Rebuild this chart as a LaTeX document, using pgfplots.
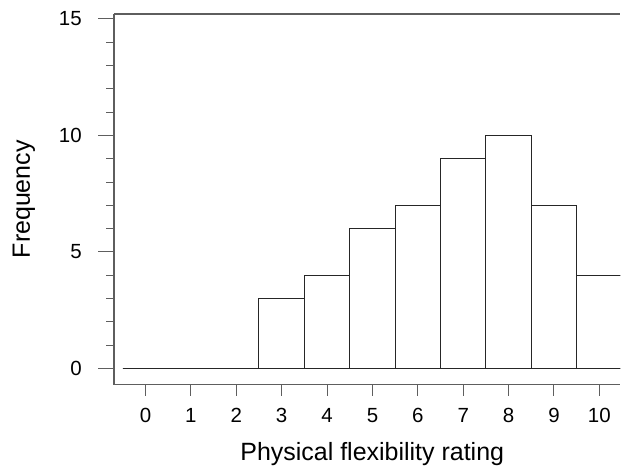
\documentclass[border=0pt]{standalone}
\usepackage{fontspec}
\setmainfont{Liberation Sans}
\usepackage{pgfplots}
\pgfplotsset{compat=1.18}
\definecolor{framegray}{HTML}{5E5E5E}

\begin{document}
\begin{tikzpicture}
\begin{axis}[
  at={(0,0)}, anchor=south west,
  scale only axis, width=506.7pt, height=371pt,
  xmin=-0.691, xmax=10.46,
  ymin=-0.686, ymax=15.21,
  axis x line*=box, axis y line*=left,
  xtick pos=left,
  axis line style={draw=framegray, line width=1.5pt},
  xtick=\empty,
  extra x ticks={0,1,2,3,4,5,6,7,8,9,10},
  extra x tick style={major tick length=11pt, xtick pos=left},
  ytick={0,5,10,15},
  minor y tick num=4,
  tick align=outside,
  major tick length=16pt, minor tick length=8pt,
  every tick/.style={draw=framegray, line width=1pt},
  /pgf/number format/assume math mode=true,
  tick label style={font=\fontsize{20.5}{22}\selectfont},
  xticklabel style={yshift=-9pt},
  yticklabel style={xshift=-13pt},
  xlabel={Physical flexibility rating},
  ylabel={Frequency},
  label style={font=\fontsize{25}{27}\selectfont},
  xlabel style={at={(axis description cs:0.51,-0.2049)}, anchor=base},
  ylabel style={at={(axis description cs:-0.1664,0.5)}, anchor=base},
  clip=true,
]
% histogram counts per rating
\addplot[ybar, bar width=1, fill=white, draw=black!85, line width=1pt]
  coordinates {(0,0)(1,0)(2,0)(3,3)(4,4)(5,6)(6,7)(7,9)(8,10)(9,7)(10,4)};
\end{axis}
\path[use as bounding box] (-114.3pt,-85pt) rectangle (506.7pt,385pt);
\end{tikzpicture}
\end{document}
